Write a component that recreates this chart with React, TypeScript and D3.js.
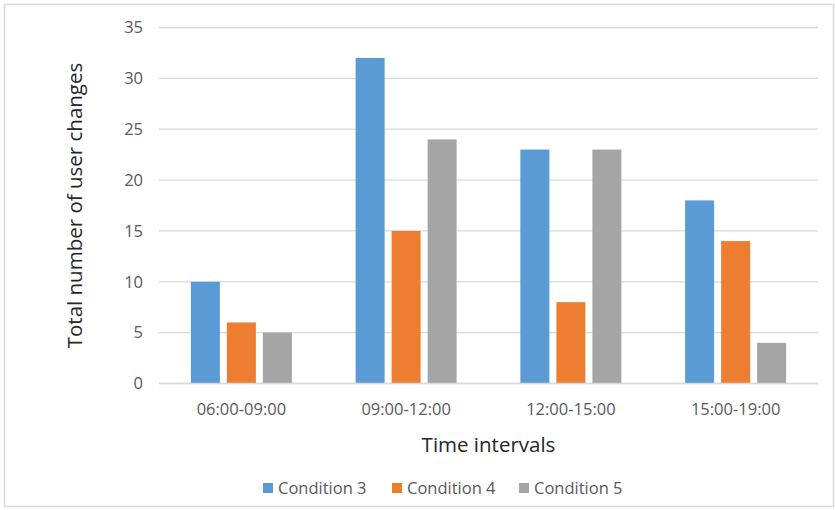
import React from "react";
import * as d3 from "d3";

const categories = ["06:00-09:00", "09:00-12:00", "12:00-15:00", "15:00-19:00"];
const seriesNames = ["Condition 3", "Condition 4", "Condition 5"];
const condition3 = [10, 32, 23, 18];
const condition4 = [6, 15, 8, 14];
const condition5 = [5, 24, 23, 4];
const yTicks = [0, 5, 10, 15, 20, 25, 30, 35];
const colors = ["#5B9BD5", "#ED7D31", "#A5A5A5"];

const W = 835;
const H = 510;
const plot = { left: 159, right: 818, top: 27.5, bottom: 383.5 };
const FONT = "'Open Sans', 'Noto Sans', sans-serif";

export default function App() {
  const series = [condition3, condition4, condition5];
  const x = d3.scaleBand<string>().domain(categories).range([plot.left, plot.right]).paddingInner(0).paddingOuter(0);
  const y = d3.scaleLinear().domain([0, 35]).range([plot.bottom, plot.top]);
  const bw = x.bandwidth();
  const barW = 29;
  const gap = 7;
  const groupW = barW * 3 + gap * 2;

  const legendX = [263, 392, 519];

  return (
    <svg width={W} height={H} style={{ position: "absolute", left: 0, top: 0, background: "#fff" }}>
      <rect x={4.5} y={4.5} width={W - 6} height={H - 8} fill="#fff" stroke="#D9D9D9" strokeWidth={1.5} />
      {yTicks.map((t) => (
        <g key={t}>
          <line x1={plot.left} x2={plot.right} y1={y(t)} y2={y(t)} stroke="#D9D9D9" strokeWidth={1.3} />
          <text x={143} y={y(t)} dy="0.35em" textAnchor="end" fontFamily={FONT} fontSize={16.5} fill="#595959">
            {t}
          </text>
        </g>
      ))}
      {categories.map((c, i) => {
        const start = (x(c) as number) + (bw - groupW) / 2;
        return (
          <g key={c}>
            {series.map((s, j) => (
              <rect
                key={j}
                x={start + j * (barW + gap)}
                y={y(s[i])}
                width={barW}
                height={y(0) - y(s[i])}
                fill={colors[j]}
              />
            ))}
            <text x={(x(c) as number) + bw / 2} y={409} dy="0.35em" textAnchor="middle" fontFamily={FONT} fontSize={16.5} fill="#595959">
              {c}
            </text>
          </g>
        );
      })}
      <line x1={plot.left} x2={plot.right} y1={y(0)} y2={y(0)} stroke="#D9D9D9" strokeWidth={1.3} />
      <text
        transform={`translate(75,${(plot.top + plot.bottom) / 2}) rotate(-90)`}
        dy="0.35em"
        textAnchor="middle"
        fontFamily={FONT}
        fontSize={20.5}
        fill="#262626"
      >
        Total number of user changes
      </text>
      <text x={(plot.left + plot.right) / 2} y={445} dy="0.35em" textAnchor="middle" fontFamily={FONT} fontSize={20.5} fill="#262626">
        Time intervals
      </text>
      {seriesNames.map((n, j) => (
        <g key={n} transform={`translate(${legendX[j]},488)`}>
          <rect x={0} y={-5} width={10} height={10} fill={colors[j]} />
          <text x={15} y={0} dy="0.35em" fontFamily={FONT} fontSize={16.5} fill="#595959">
            {n}
          </text>
        </g>
      ))}
    </svg>
  );
}
